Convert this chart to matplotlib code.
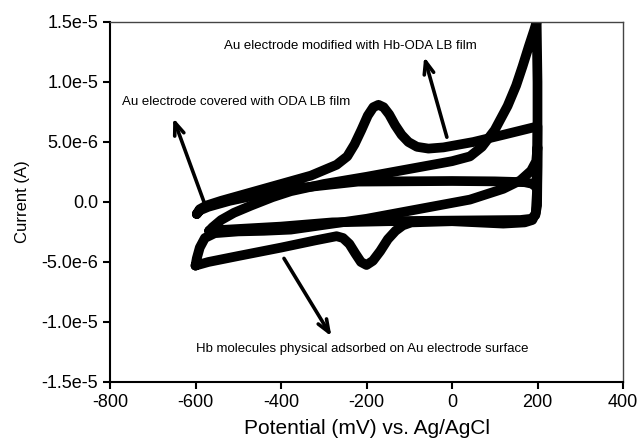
import matplotlib
matplotlib.use('Agg')
import matplotlib.pyplot as plt

plt.rcParams['font.family'] = ['Liberation Sans', 'DejaVu Sans']

# Cyclic voltammograms, potential in mV, current in uA (scaled to A below)
# Hb-ODA LB film: anodic scan then cathodic scan
hb_oda_E = [-597, -590, -575, -540, -450, -330, -270, -245, -228, -212, -197, -184, -172, -160, -147,
            -133, -118, -102, -82, -55, -20, 50, 120, 200,
            199, 197, 190, 170, 100, 0, -220, -400, -520, -570, -590, -597]
hb_oda_I = [-1.0, -0.6, -0.3, 0.1, 1.0, 2.2, 3.1, 3.8, 4.8, 6.0, 7.2, 7.9, 8.1, 7.9, 7.3,
            6.4, 5.6, 5.0, 4.6, 4.45, 4.55, 5.0, 5.6, 6.3,
            3.0, 1.2, 1.5, 1.65, 1.72, 1.75, 1.7, 1.0, 0.1, -0.4, -0.7, -1.0]

# ODA LB film
oda_E = [-568, -560, -540, -510, -470, -420, -377, -300, -200, 0, 42, 70, 100, 130, 150, 165, 180,
         192, 198, 200, 200, 199, 195, 185, 160, 0, -150, -280, -400, -500, -550, -565, -568]
oda_I = [-2.4, -2.1, -1.5, -0.9, -0.3, 0.4, 0.9, 1.5, 2.1, 3.4, 3.8, 4.6, 6.0, 8.0, 9.7, 11.3, 13.0,
         14.3, 15.0, 10.0, 3.0, -0.3, -1.1, -1.4, -1.5, -1.55, -1.6, -1.7, -2.05, -2.25, -2.35, -2.4, -2.4]

# Hb physically adsorbed on bare Au
hb_ads_E = [-600, -597, -590, -578, -555, -500, -440, -377, -200, 42, 120, 160, 185, 197, 200,
            199, 196, 188, 170, 120, 0, -95, -115, -132, -150, -168, -185, -200, -213, -226, -240,
            -255, -270, -320, -400, -500, -570, -600]
hb_ads_I = [-5.3, -4.7, -3.8, -3.0, -2.6, -2.45, -2.4, -2.3, -1.4, 0.2, 1.1, 1.8, 2.6, 3.4, 4.6,
            1.0, -0.9, -1.5, -1.7, -1.8, -1.6, -1.7, -1.95, -2.4, -3.1, -4.1, -4.9, -5.25, -5.0, -4.3,
            -3.5, -3.0, -2.85, -3.2, -3.8, -4.5, -5.0, -5.3]

xticks = [-800, -600, -400, -200, 0, 200, 400]
yticks = [-1.5e-5, -1.0e-5, -5.0e-6, 0.0, 5.0e-6, 1.0e-5, 1.5e-5]
ytick_labels = ['-1.5e-5', '-1.0e-5', '-5.0e-6', '0.0', '5.0e-6', '1.0e-5', '1.5e-5']

fig = plt.figure(figsize=(6.44, 4.41), dpi=100)
ax = fig.add_axes([110 / 644, 59 / 441, 513 / 644, 360 / 441])

for E, I in [(hb_oda_E, hb_oda_I), (oda_E, oda_I), (hb_ads_E, hb_ads_I)]:
    ax.plot(E, [v * 1e-6 for v in I], color='black', lw=7,
            solid_joinstyle='round', solid_capstyle='round')

arrow = dict(arrowstyle='->,head_length=0.9,head_width=0.35', lw=2.6, color='black',
             shrinkA=0, shrinkB=0)
ax.annotate('', xy=(-652, 7.0e-6), xytext=(-576, -0.4e-6), arrowprops=arrow)
ax.annotate('', xy=(-65, 12.1e-6), xytext=(-12, 5.4e-6), arrowprops=arrow)
ax.annotate('', xy=(-282, -11.2e-6), xytext=(-393, -4.7e-6), arrowprops=arrow)

ax.text(-237, 13.0e-6, 'Au electrode modified with Hb-ODA LB film',
        ha='center', va='center', fontsize=9.5)
ax.text(-772, 8.3e-6, 'Au electrode covered with ODA LB film',
        ha='left', va='center', fontsize=9.5)
ax.text(-600, -12.25e-6, 'Hb molecules physical adsorbed on Au electrode surface',
        ha='left', va='center', fontsize=9.5)

ax.set_xlim(-800, 400)
ax.set_ylim(-1.5e-5, 1.5e-5)
ax.set_xticks(xticks)
ax.set_xticklabels([str(t) for t in xticks])
ax.set_yticks(yticks)
ax.set_yticklabels(ytick_labels)
ax.tick_params(direction='out', length=5, width=1.5, labelsize=13, top=False, right=False)

ax.spines['left'].set_linewidth(1.5)
ax.spines['bottom'].set_linewidth(1.5)
for side in ['top', 'right']:
    ax.spines[side].set_linewidth(1.0)
    ax.spines[side].set_color('#444444')

ax.set_xlabel('Potential (mV) vs. Ag/AgCl', fontsize=15, labelpad=6)
ax.set_ylabel('Current (A)', fontsize=12, labelpad=8)

fig.savefig('out.png', dpi=100)
